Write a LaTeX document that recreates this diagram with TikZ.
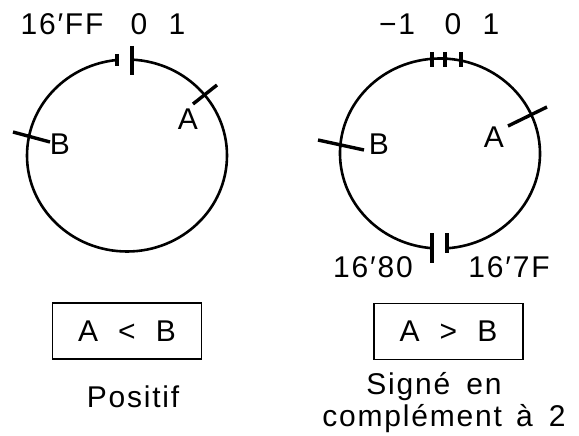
\documentclass[tikz,border=0pt]{standalone}
\usepackage{fontspec}
\setmainfont{Liberation Sans}[LetterSpace=6]
\begin{document}
\begin{tikzpicture}[x=1pt,y=1pt,
  lbl/.style={inner sep=0pt, anchor=base, font=\fontsize{30}{36}\selectfont},
  circ/.style={line width=2.6pt},
  tickmark/.style={line width=4pt},
  cross/.style={line width=3.4pt},
  res/.style={draw, line width=1.4pt, minimum width=149pt, minimum height=56pt, inner sep=0pt, font=\fontsize{30}{36}\selectfont}]
\useasboundingbox (0,0) rectangle (579,-436);
% left wheel
\coordinate (cl) at (127,-155.5);
\draw[circ] (cl) ++(87.13:100pt and 96pt) arc[start angle=87.13, end angle=-264.26, x radius=100pt, y radius=96pt];
\draw[tickmark] (117,-54) -- (117,-66);
\draw[tickmark] (132,-46) -- (132,-75);
\coordinate (la1) at (193,-104); \coordinate (la2) at (217,-85);
\draw[cross] (la1) -- (la2);
\coordinate (lb1) at (13,-132); \coordinate (lb2) at (50,-142);
\draw[cross] (lb1) -- (lb2);
\node[lbl] (lff) at (62,-35) {16′FF};
\node[lbl] (l0) at (139,-35) {0};
\node[lbl] (l1) at (177,-35) {1};
\node[lbl] (lA) at (188,-130) {A};
\node[lbl] (lB) at (60,-154) {B};
% right wheel
\coordinate (cr) at (440,-153.5);
\draw[circ] (cr) ++(-85.99:100pt and 95pt) arc[start angle=-85.99, end angle=265.41, x radius=100pt, y radius=95pt];
\draw[tickmark] (432,-52) -- (432,-67);
\draw[tickmark] (445,-52) -- (445,-67);
\draw[tickmark] (461,-52) -- (461,-67);
\draw[tickmark] (432,-233) -- (432,-263);
\draw[tickmark] (447,-233) -- (447,-253);
\coordinate (ra1) at (508,-126); \coordinate (ra2) at (547,-107);
\draw[cross] (ra1) -- (ra2);
\coordinate (rb1) at (318,-140); \coordinate (rb2) at (364,-150);
\draw[cross] (rb1) -- (rb2);
\node[lbl] (rm1) at (397,-35) {−1};
\node[lbl] (r0) at (453,-35) {0};
\node[lbl] (r1) at (491,-35) {1};
\node[lbl] (rA) at (494,-147) {A};
\node[lbl] (rB) at (379,-154) {B};
\node[lbl] (r80) at (373,-277) {16′80};
\node[lbl] (r7f) at (509,-277) {16′7F};
% boxes and captions
\node[res] (boxl) at (127,-331) {A\hspace{20pt}<\hspace{20pt}B};
\node[res] (boxr) at (448.5,-331.5) {A\hspace{20pt}>\hspace{20pt}B};
\node[lbl] (pos) at (133,-407) {Positif};
\node[lbl] (sig1) at (434,-394) {Signé\hspace{6pt} en};
\node[lbl] (sig2) at (444,-426) {complément\hspace{4pt} à\hspace{6pt} 2};
\end{tikzpicture}
\end{document}
